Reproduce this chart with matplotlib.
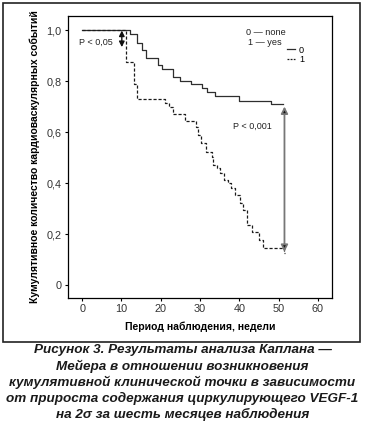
# IMPORTS
import matplotlib
matplotlib.use("Agg")
import matplotlib.pyplot as plt
from matplotlib.lines import Line2D
from matplotlib.patches import Rectangle

# CONSTANTS
WIDTH = 365
HEIGHT = 422
DPI = 100

plt.rcParams["font.family"] = ["Liberation Sans", "DejaVu Sans"]

# DATA
# group 0 - no VEGF-1 increase (solid)
TIMES_0 = [0, 12.2, 13.9, 15.3, 16.3, 19.3, 20.3, 23.2, 24.9, 27.7, 30.5,
           31.9, 33.8, 40.0, 48.0, 51.0]
SURV_0 = [1.0, 0.984, 0.95, 0.92, 0.889, 0.863, 0.846, 0.817, 0.80, 0.787,
          0.774, 0.758, 0.741, 0.723, 0.711, 0.711]

# group 1 - increase by 2 sigma (dashed)
TIMES_1 = [0, 11.2, 13.2, 13.9, 21.1, 22.0, 23.2, 26.2, 29.0, 29.4, 30.2,
           31.6, 33.0, 33.4, 34.3, 35.1, 36.0, 37.2, 37.9, 38.9, 40.2, 41.0,
           41.9, 43.2, 44.9, 46.1, 51.3, 51.6]
SURV_1 = [1.0, 0.876, 0.79, 0.728, 0.712, 0.697, 0.67, 0.644, 0.618, 0.59,
          0.556, 0.523, 0.503, 0.47, 0.457, 0.438, 0.412, 0.399, 0.379, 0.353,
          0.32, 0.294, 0.235, 0.209, 0.176, 0.144, 0.125, 0.125]

X_TICKS = [0, 10, 20, 30, 40, 50, 60]
Y_TICKS = [0, 0.2, 0.4, 0.6, 0.8, 1.0]
Y_TICK_LABELS = ["0", "0,2", "0,4", "0,6", "0,8", "1,0"]

X_LABEL = "Период наблюдения, недели"
Y_LABEL = "Кумулятивное количество кардиоваскулярных событий"
CAPTION = [
    "Рисунок 3. Результаты анализа Каплана —",
    "Мейера в отношении возникновения",
    "кумулятивной клинической точки в зависимости",
    "от прироста содержания циркулирующего VEGF-1",
    "на 2σ за шесть месяцев наблюдения",
]

# MAIN CODE
fig = plt.figure(figsize=(WIDTH / DPI, HEIGHT / DPI), dpi=DPI, facecolor="white")
ax = fig.add_axes([68 / WIDTH, 1 - 298 / HEIGHT, 264 / WIDTH, 282 / HEIGHT])

ax.plot(TIMES_0, SURV_0, drawstyle="steps-post", color="#2e2e2e", lw=0.9)
ax.plot(TIMES_1, SURV_1, drawstyle="steps-post", color="#1a1a1a", lw=0.9,
        linestyle=(0, (2.5, 1.5)))

ax.set_xlim(-3.6, 63.6)
ax.set_ylim(-0.051, 1.055)
ax.set_xticks(X_TICKS)
ax.set_yticks(Y_TICKS)
ax.set_yticklabels(Y_TICK_LABELS)
ax.tick_params(labelsize=7.8, labelcolor="#333333", length=2.5, width=0.8,
               pad=2)
for side in ["left", "right", "top", "bottom"]:
    ax.spines[side].set_linewidth(0.9)

ax.set_xlabel(X_LABEL, fontsize=7.5, fontweight="bold", labelpad=5)
ax.set_ylabel(Y_LABEL, fontsize=7.5, fontweight="bold", labelpad=5)

# p-value arrows
ax.annotate("", xy=(10.1, 0.933), xytext=(10.1, 0.998),
            arrowprops=dict(arrowstyle="<|-|>", color="#111111", lw=1.0,
                            mutation_scale=8, shrinkA=0, shrinkB=0))
ax.text(7.9, 0.95, "P < 0,05", fontsize=6.5, ha="right", va="center",
        color="#222222")

ax.annotate("", xy=(51.5, 0.13), xytext=(51.5, 0.70),
            arrowprops=dict(arrowstyle="<|-|>", ec="#777777", fc="#111111",
                            lw=1.3, mutation_scale=10, shrinkA=0, shrinkB=0))
ax.text(43.4, 0.624, "P < 0,001", fontsize=6.5, ha="center", va="center",
        color="#222222")

# group legend
ax.text(41.7, 0.99, "0 — none", fontsize=6.6, ha="left", va="center",
        color="#222222")
ax.text(42.1, 0.952, "1 — yes", fontsize=6.6, ha="left", va="center",
        color="#222222")
handles = [
    Line2D([], [], color="#2e2e2e", lw=0.9),
    Line2D([], [], color="#1a1a1a", lw=0.9, linestyle=(0, (1.5, 1))),
]
ax.legend(handles, ["0", "1"], loc="upper left", bbox_to_anchor=(0.83, 0.895),
          frameon=False, fontsize=6.6, handlelength=0.9, handletextpad=0.4,
          labelspacing=0.05, borderpad=0, borderaxespad=0)

# outer frame
fig.patches.append(Rectangle((3 / WIDTH, 1 - 342 / HEIGHT), 357 / WIDTH,
                             339 / HEIGHT, transform=fig.transFigure,
                             fill=False, lw=1.2, ec="#222222"))

# caption
for i, line in enumerate(CAPTION):
    fig.text(0.5, 1 - (350 + i * 16.1) / HEIGHT, line, fontsize=9.7,
             fontweight="bold", fontstyle="italic", ha="center", va="center",
             color="#1a1a1a")

plt.savefig("out.png", dpi=DPI)
plt.close()
